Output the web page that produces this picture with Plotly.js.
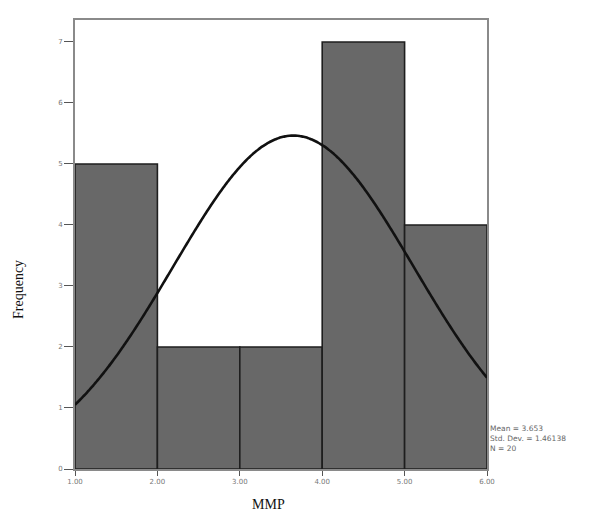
<!DOCTYPE html>
<html><head><meta charset="utf-8">
<script src="https://cdn.plot.ly/plotly-3.0.1.min.js"></script>
<style>html,body{margin:0;padding:0;background:#fff;}</style>
</head><body>
<div id="chart" style="width:609px;height:519px;"></div>
<script>
const binCenters = [1.5, 2.5, 3.5, 4.5, 5.5];
const frequencies = [5, 2, 2, 7, 4];
const xTickVals = [1, 2, 3, 4, 5, 6];
const xTickText = ["1.00", "2.00", "3.00", "4.00", "5.00", "6.00"];
const yTickVals = [0, 1, 2, 3, 4, 5, 6, 7];
const fitMean = 3.65;
const fitSD = 1.46;
const fitN = 20;
const statsLines = ["Mean = 3.653", "Std. Dev. = 1.46138", "N = 20"];

const curveX = [], curveY = [];
for (let i = 0; i <= 200; i++) {
  const x = 1 + 5 * i / 200;
  curveX.push(x);
  curveY.push(fitN * 1 / (fitSD * Math.sqrt(2 * Math.PI)) * Math.exp(-0.5 * Math.pow((x - fitMean) / fitSD, 2)));
}

const data = [
  {type: 'bar', x: binCenters, y: frequencies, width: 1,
   marker: {color: '#686868', line: {color: '#1e1e1e', width: 1.6}},
   hoverinfo: 'skip'},
  {type: 'scatter', mode: 'lines', x: curveX, y: curveY,
   line: {color: '#111', width: 2.6, shape: 'spline'}, hoverinfo: 'skip'}
];

const layout = {
  width: 609, height: 519,
  margin: {l: 75, r: 122, t: 20, b: 50},
  paper_bgcolor: '#fff', plot_bgcolor: '#fff',
  showlegend: false,
  xaxis: {range: [1, 6], tickvals: xTickVals, ticktext: xTickText,
    showgrid: false, zeroline: false, showline: true, mirror: true,
    linecolor: '#8a8a8a', linewidth: 2, ticks: 'outside', ticklen: 5, tickcolor: '#555',
    tickfont: {family: 'DejaVu Sans', size: 7, color: '#777'}},
  yaxis: {range: [0, 7.36], tickvals: yTickVals,
    showgrid: false, zeroline: false, showline: true, mirror: true,
    linecolor: '#8a8a8a', linewidth: 2, ticks: 'outside', ticklen: 9, tickcolor: '#555',
    tickfont: {family: 'DejaVu Sans', size: 7, color: '#777'}},
  annotations: [
    {xref: 'paper', yref: 'paper', x: 1.003, y: (469 - 422) / 449, xanchor: 'left', yanchor: 'top',
     text: statsLines.join('<br>'), showarrow: false, align: 'left',
     font: {family: 'DejaVu Sans', size: 7.5, color: '#666'}},
    {xref: 'paper', yref: 'paper', x: (268 - 75) / 412, y: (469 - 505) / 449,
     xanchor: 'center', yanchor: 'middle', text: 'MMP', showarrow: false,
     font: {family: 'Liberation Serif', size: 14, color: '#111'}},
    {xref: 'paper', yref: 'paper', x: (18 - 75) / 412, y: (469 - 290) / 449,
     xanchor: 'center', yanchor: 'middle', text: 'Frequency', showarrow: false, textangle: -90,
     font: {family: 'Liberation Serif', size: 14, color: '#111'}}
  ]
};
Plotly.newPlot('chart', data, layout, {displayModeBar: false, staticPlot: true});
</script>
</body></html>
